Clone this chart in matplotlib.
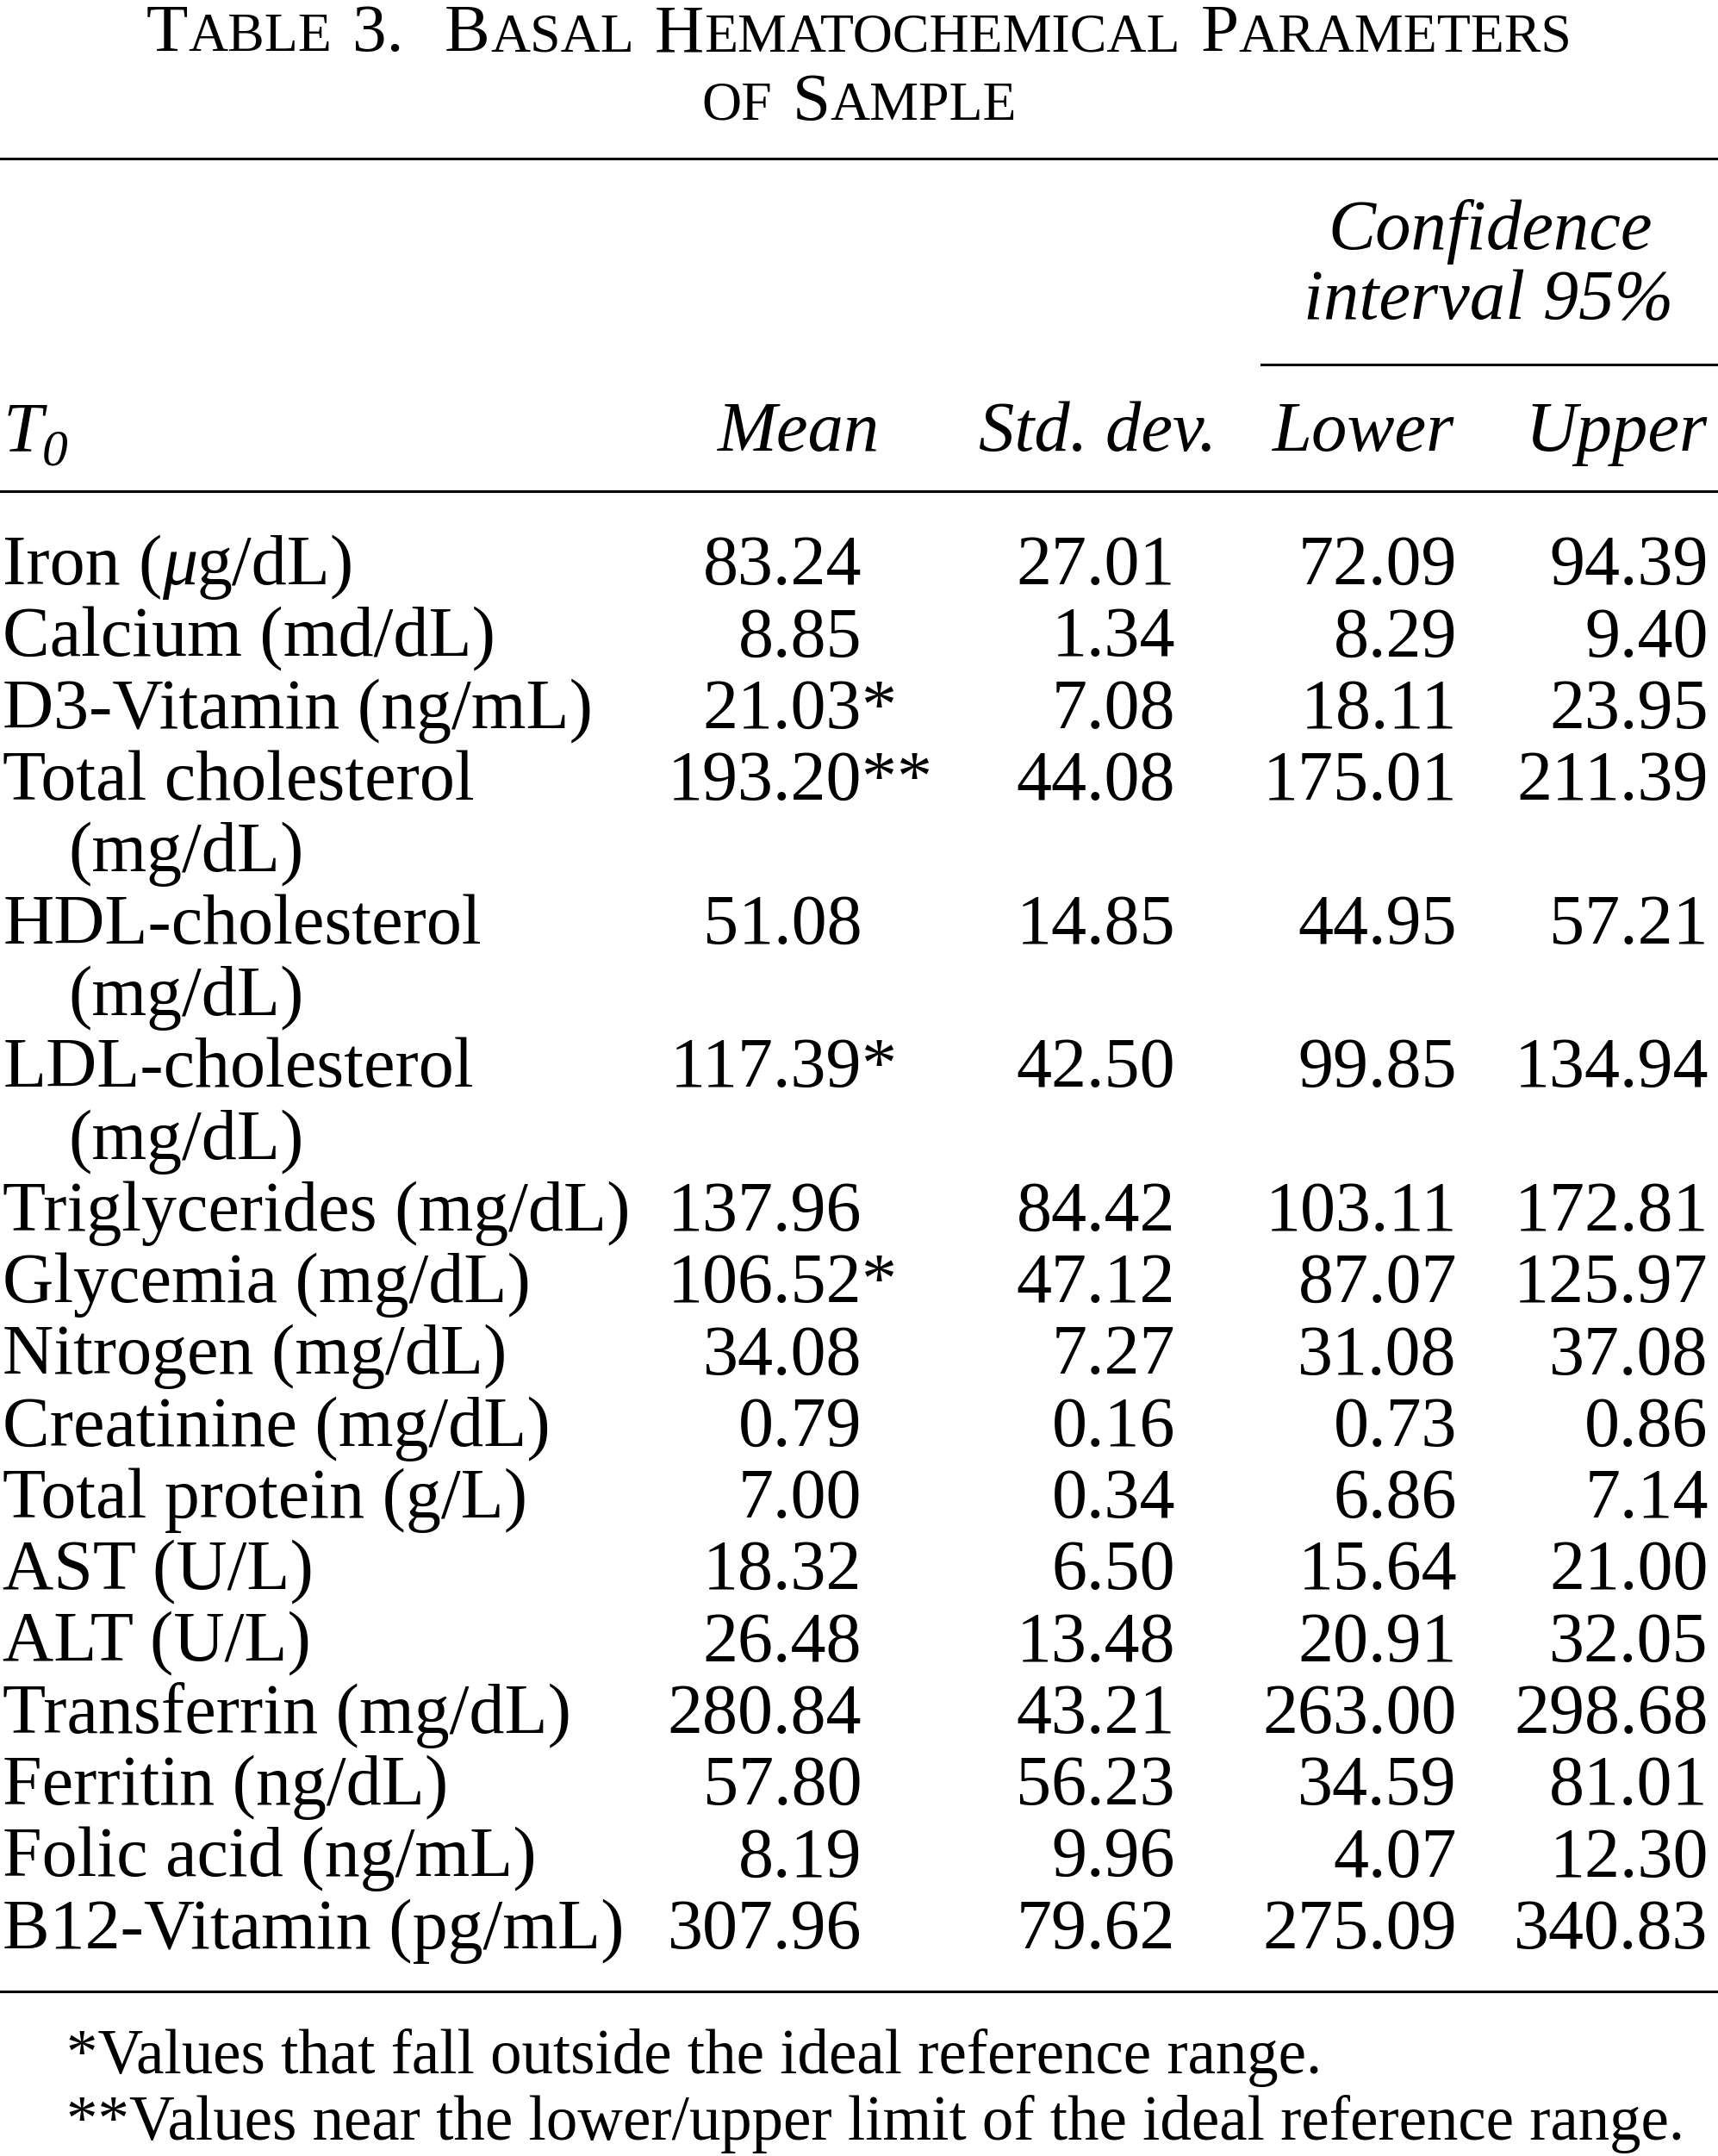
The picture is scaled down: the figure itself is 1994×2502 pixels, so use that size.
import matplotlib
matplotlib.use("Agg")
import matplotlib.pyplot as plt

# ---- table contents ----
row_labels = [
    "Iron (µg/dL)", "Calcium (md/dL)", "D3-Vitamin (ng/mL)",
    "Total cholesterol\n(mg/dL)", "HDL-cholesterol\n(mg/dL)",
    "LDL-cholesterol\n(mg/dL)", "Triglycerides (mg/dL)", "Glycemia (mg/dL)",
    "Nitrogen (mg/dL)", "Creatinine (mg/dL)", "Total protein (g/L)",
    "AST (U/L)", "ALT (U/L)", "Transferrin (mg/dL)", "Ferritin (ng/dL)",
    "Folic acid (ng/mL)", "B12-Vitamin (pg/mL)",
]
means = ["83.24", "8.85", "21.03", "193.20", "51.08", "117.39", "137.96",
         "106.52", "34.08", "0.79", "7.00", "18.32", "26.48", "280.84",
         "57.80", "8.19", "307.96"]
mean_marks = ["", "", "*", "**", "", "*", "", "*", "", "", "", "", "", "",
              "", "", ""]
std_devs = ["27.01", "1.34", "7.08", "44.08", "14.85", "42.50", "84.42",
            "47.12", "7.27", "0.16", "0.34", "6.50", "13.48", "43.21",
            "56.23", "9.96", "79.62"]
lowers = ["72.09", "8.29", "18.11", "175.01", "44.95", "99.85", "103.11",
          "87.07", "31.08", "0.73", "6.86", "15.64", "20.91", "263.00",
          "34.59", "4.07", "275.09"]
uppers = ["94.39", "9.40", "23.95", "211.39", "57.21", "134.94", "172.81",
          "125.97", "37.08", "0.86", "7.14", "21.00", "32.05", "298.68",
          "81.01", "12.30", "340.83"]
footnotes = ["*Values that fall outside the ideal reference range.",
             "**Values near the lower/upper limit of the ideal reference range."]

# ---- layout (in units of a 1250 x 1568 page) ----
W, H = 1250, 1568
BODY = 59
HEAD = 59.5
FOOT = 52.5
TITLE_BIG, TITLE_SMALL = 57, 46
LW = 2.2
first_base = 425
line_step = 52.2
col_right = [627, 855, 1060, 1243]

plt.rcParams["font.family"] = ["Liberation Serif", "DejaVu Serif"]

fig = plt.figure(figsize=(19.94, 25.02), dpi=100)
ax = fig.add_axes([0, 0, 1, 1])
ax.set_xlim(0, W)
ax.set_ylim(H, 0)
ax.axis("off")
renderer = fig.canvas.get_renderer()
px2x = W / (19.94 * 100)


def run_width(s, **kw):
    t = ax.text(0, 0, s, **kw)
    w = t.get_window_extent(renderer).width * px2x
    t.remove()
    return w


def draw_words(x, y, words, ha="left"):
    """words: list of (list of (text, kwargs, dy), gap_after)"""
    widths = []
    for runs, gap in words:
        widths.append([run_width(s, **kw) for s, kw, dy in runs])
    total = sum(sum(w) for w in widths) + sum(g for _, g in words[:-1])
    if ha == "center":
        x = x - total / 2
    elif ha == "right":
        x = x - total
    for (runs, gap), ws in zip(words, widths):
        for (s, kw, dy), w in zip(runs, ws):
            ax.text(x, y + dy, s, ha="left", va="baseline", **kw)
            x += w
        x += gap


# ---- title in small caps ----
big = dict(fontsize=TITLE_BIG)
small = dict(fontsize=TITLE_SMALL)
sp = 15
draw_words(625, 37, [
    ([("T", big, 0), ("ABLE", small, 0)], sp),
    ([("3.", big, 0)], sp * 2),
    ([("B", big, 0), ("ASAL", small, 0)], sp),
    ([("H", big, 0), ("EMATOCHEMICAL", small, 0)], sp),
    ([("P", big, 0), ("ARAMETERS", small, 0)], 0),
], ha="center")
draw_words(625, 87, [
    ([("OF", small, 0)], sp),
    ([("S", big, 0), ("AMPLE", small, 0)], 0),
], ha="center")

# ---- rules ----
ax.plot([0, W], [115, 115], color="black", lw=LW)
ax.plot([918, W], [265, 265], color="black", lw=LW)
ax.plot([0, W], [357, 357], color="black", lw=LW)
ax.plot([0, W], [1448, 1448], color="black", lw=LW)

# ---- header ----
it = dict(fontsize=HEAD, style="italic")
ax.text(1084, 181, "Confidence", ha="center", va="baseline", **it)
ax.text(1083, 232, "interval 95%", ha="center", va="baseline", **it)
draw_words(2, 328, [([("T", it, 0), ("0", dict(fontsize=HEAD * 0.72, style="italic"), 10)], 0)])
for xr, name in zip([640, 885, 1058, 1242], ["Mean", "Std. dev.", "Lower", "Upper"]):
    ax.text(xr, 328, name, ha="right", va="baseline", **it)

# ---- body rows ----
rm = dict(fontsize=BODY)
line = 0
for i, lab in enumerate(row_labels):
    y = first_base + line * line_step
    parts = lab.split("\n")
    if parts[0].startswith("Iron"):
        draw_words(2, y, [
            ([("Iron", rm, 0)], run_width("a a", **rm) - run_width("aa", **rm)),
            ([("(", rm, 0), ("μ", dict(fontsize=BODY, style="italic"), 0), ("g/dL)", rm, 0)], 0),
        ])
    else:
        ax.text(2, y, parts[0], ha="left", va="baseline", **rm)
    if len(parts) > 1:
        ax.text(50, y + line_step, parts[1], ha="left", va="baseline", **rm)
    ax.text(col_right[0], y, means[i], ha="right", va="baseline", **rm)
    if mean_marks[i]:
        ax.text(col_right[0], y, mean_marks[i], ha="left", va="baseline", **rm)
    for xr, vals in zip(col_right[1:], [std_devs, lowers, uppers]):
        ax.text(xr, y, vals[i], ha="right", va="baseline", **rm)
    line += len(parts)

# ---- footnotes ----
for k, note in enumerate(footnotes):
    ax.text(48, 1508 + k * 48, note, ha="left", va="baseline", fontsize=FOOT)

fig.savefig("out.png", dpi=100)
